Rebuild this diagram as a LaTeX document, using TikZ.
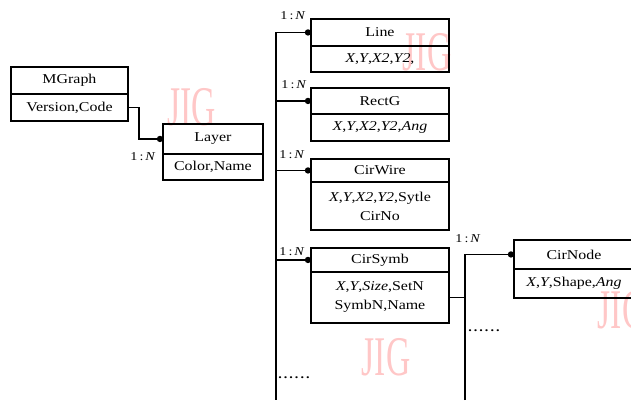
\documentclass[tikz,border=0pt]{standalone}
\usepackage{fontspec}
\setmainfont{Liberation Serif}[FakeStretch=1.18]
\newfontfamily\wmfont{Liberation Serif}
\usepackage{graphicx}
\begin{document}
\begin{tikzpicture}[x=1pt,y=-1pt,
  box/.style={draw, line width=1.9pt, inner sep=0pt, align=center, anchor=north west,
    font=\fontsize{13.5}{19}\selectfont},
  conn/.style={line width=1.7pt},
  card/.style={font=\fontsize{12}{12}\selectfont, inner sep=0pt, anchor=base},
  dots/.style={font=\fontsize{12}{12}\selectfont\bfseries, inner sep=0pt, anchor=base},
  wm/.style={text=red!22, inner sep=0pt, font=\wmfont\fontsize{56}{56}\selectfont},
  jdot/.style={fill=black}
]
\useasboundingbox (0,0) rectangle (631,400);
\clip (0,0) rectangle (631,400);

% watermarks
\node[wm] (w1) at (192,107) {\scalebox{0.6}[1]{JIG}};
\node[wm] (w2) at (427,52) {\scalebox{0.6}[1]{JIG}};
\node[wm] (w3) at (386,357) {\scalebox{0.6}[1]{JIG}};
\node[wm] (w4) at (622,310) {\scalebox{0.6}[1]{JIG}};

% boxes
\node[box, minimum width=117pt, minimum height=27pt] (mg) at (10,66) {MGraph};
\node[box, minimum width=117pt, minimum height=27pt] (mgA) at (10,93) {Version,Code};

\node[box, minimum width=100pt, minimum height=30pt] (ly) at (162,123) {Layer};
\node[box, minimum width=100pt, minimum height=26pt] (lyA) at (162,153) {Color,Name};

\node[box, minimum width=138pt, minimum height=27pt] (ln) at (310,18) {Line};
\node[box, minimum width=138pt, minimum height=26pt] (lnA) at (310,45) {\textit{X},\textit{Y},\textit{X2},\textit{Y2},};

\node[box, minimum width=138pt, minimum height=26pt] (rg) at (310,87) {RectG};
\node[box, minimum width=138pt, minimum height=27pt] (rgA) at (310,113) {\textit{X},\textit{Y},\textit{X2},\textit{Y2},\textit{Ang}};

\node[box, minimum width=138pt, minimum height=23pt] (cw) at (310,158) {CirWire};
\node[box, minimum width=138pt, minimum height=48pt] (cwA) at (310,181) {\textit{X},\textit{Y},\textit{X2},\textit{Y2},Sytle\\CirNo};

\node[box, minimum width=138pt, minimum height=24pt] (cs) at (310,247) {CirSymb};
\node[box, minimum width=138pt, minimum height=51pt] (csA) at (310,271) {\textit{X},\textit{Y},\textit{Size},SetN\\SymbN,Name};

\node[box, minimum width=120pt, minimum height=29pt] (cn) at (513,239) {CirNode};
\node[box, minimum width=120pt, minimum height=29pt] (cnA) at (513,268) {\textit{X},\textit{Y},Shape,\textit{Ang}};

% bus coordinates
\coordinate (bus) at (276,0);
\coordinate (busEnd) at (276,400);
\coordinate (br) at (465,400);

% connectors
\draw[conn] (mgA.east) -- ++(10,0) |- (ly.west);
\fill[jdot] ([xshift=-2pt]ly.west) circle (3.2pt);

\draw[conn] (bus |- ln.west) -- (busEnd);
\foreach \t in {ln,rg,cw,cs}{
  \draw[conn] (bus |- \t.west) -- (\t.west);
  \fill[jdot] ([xshift=-2pt]\t.west) circle (3.2pt);
}
\draw[conn] (csA.east) -- (br |- csA.east);
\draw[conn] (br) -- (br |- cn.west) -- (cn.west);
\fill[jdot] ([xshift=-2pt]cn.west) circle (3.2pt);

% cardinality labels
\node[card] (k0) at (143,160) {1\,:\,\textit{N}};
\node[card] (k1) at (293,19) {1\,:\,\textit{N}};
\node[card] (k2) at (294,88) {1\,:\,\textit{N}};
\node[card] (k3) at (292,158) {1\,:\,\textit{N}};
\node[card] (k4) at (292,255) {1\,:\,\textit{N}};
\node[card] (k5) at (468,242) {1\,:\,\textit{N}};

% continuation dots
\node[dots] (d1) at (294,378) {.\,.\,.\,.\,.\,.};
\node[dots] (d2) at (484,331) {.\,.\,.\,.\,.\,.};
\end{tikzpicture}
\end{document}
